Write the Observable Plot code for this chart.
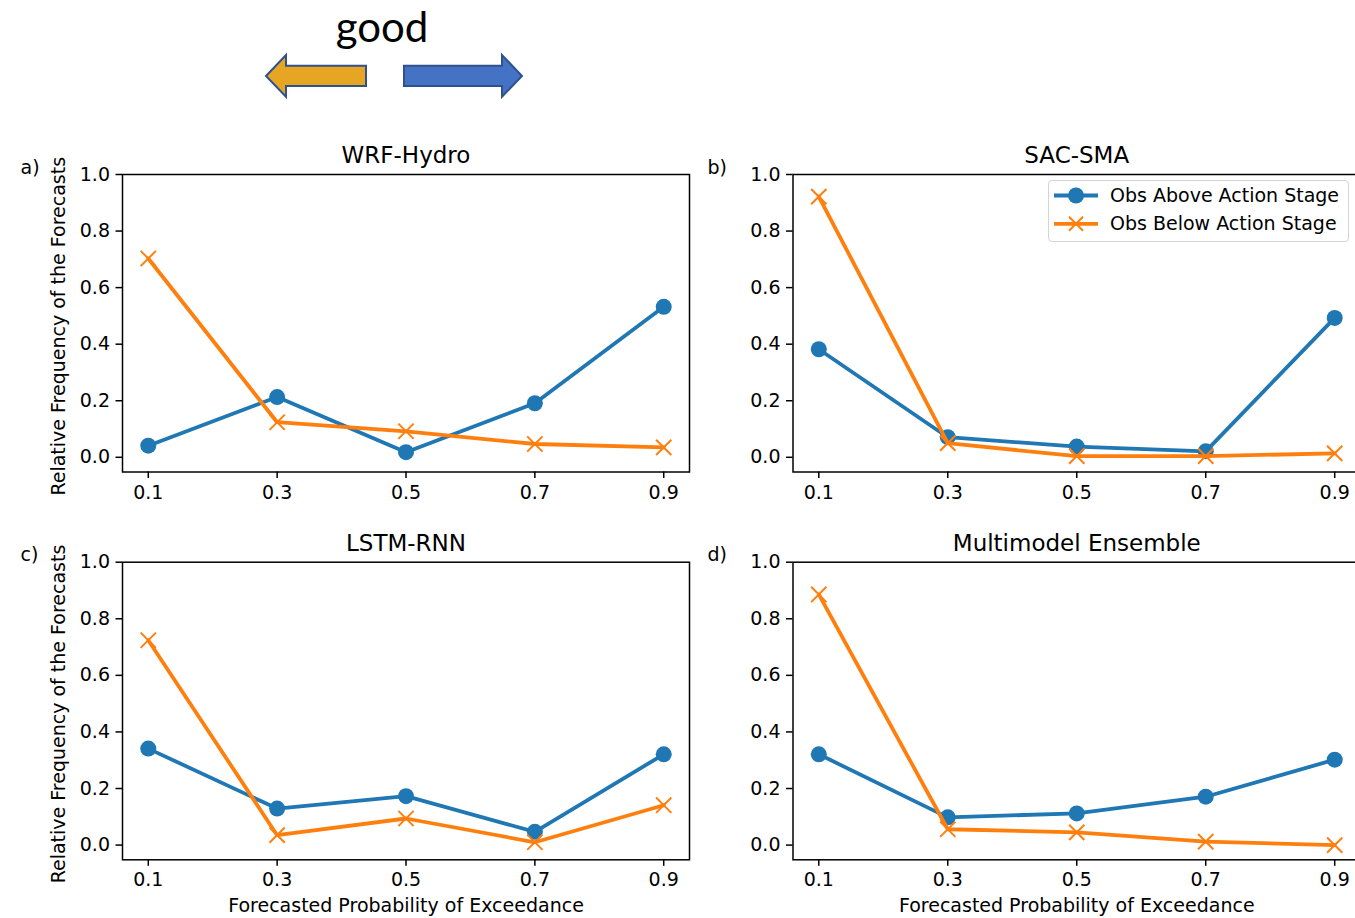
<!DOCTYPE html>
<html>
<head>
<meta charset="utf-8">
<script src="https://cdn.jsdelivr.net/npm/d3@7"></script>
<script src="https://cdn.jsdelivr.net/npm/@observablehq/plot@0.6"></script>
<style>
  html, body { margin: 0; padding: 0; background: #fff; }
  #root { position: relative; width: 1355px; height: 918px; overflow: hidden; background: #fff; }
  .panel { position: absolute; }
  .panel svg { overflow: visible; max-width: none !important; }
  #legend { position: absolute; left: 1048px; top: 180px; width: 299px; height: 60px;
    border: 1.5px solid #d4d4d4; border-radius: 4px; background: rgba(255,255,255,0.85);
    font-family: "DejaVu Sans", sans-serif; color: #000; }
</style>
</head>
<body>
<div id="root"></div>
<script>
// ---------- data ----------
const probs = [0.1, 0.3, 0.5, 0.7, 0.9];
const yTicks = [0, 0.2, 0.4, 0.6, 0.8, 1.0];
const seriesNames = ["Obs Above Action Stage", "Obs Below Action Stage"];
const panelTitles = ["WRF-Hydro", "SAC-SMA", "LSTM-RNN", "Multimodel Ensemble"];
const panelTags = ["a)", "b)", "c)", "d)"];

const wrfAbove  = [0.041, 0.213, 0.018, 0.191, 0.532];
const wrfBelow  = [0.703, 0.124, 0.092, 0.047, 0.035];
const sacAbove  = [0.382, 0.071, 0.038, 0.021, 0.493];
const sacBelow  = [0.922, 0.050, 0.004, 0.004, 0.014];
const lstmAbove = [0.341, 0.129, 0.173, 0.047, 0.321];
const lstmBelow = [0.724, 0.035, 0.094, 0.010, 0.141];
const mmeAbove  = [0.321, 0.098, 0.112, 0.171, 0.302];
const mmeBelow  = [0.886, 0.056, 0.045, 0.012, 0.000];

const xLabel = "Forecasted Probability of Exceedance";
const yLabel = "Relative Frequency of the Forecasts";
const headerWord = "good";

// ---------- style ----------
const BLUE = "#1f77b4", ORANGE = "#ff7f0e";
const FONT = "DejaVu Sans, sans-serif";
const FS = 19;

const root = document.getElementById("root");

// header: "good" with arrows
const header = document.createElementNS("http://www.w3.org/2000/svg", "svg");
header.setAttribute("width", 1355);
header.setAttribute("height", 120);
header.style.position = "absolute";
header.style.left = "0px";
header.style.top = "0px";
header.innerHTML = `
  <text x="382" y="42" text-anchor="middle" font-family="Lato, 'Open Sans', sans-serif" font-size="42" fill="#000">${headerWord}</text>
  <polygon points="266,76 286,55 286,65.7 366,65.7 366,86 286,86 286,96.7" fill="#E6A623" stroke="#2F528F" stroke-width="2" stroke-linejoin="miter"/>
  <polygon points="404,65.7 502,65.7 502,55 522,76 502,96.7 502,86 404,86" fill="#4472C4" stroke="#2F528F" stroke-width="2" stroke-linejoin="miter"/>
`;
root.appendChild(header);

function rows(vals) { return probs.map((p, i) => ({p, v: vals[i]})); }

function panel({above, below, title, tag, showY, showX, left, top, width, height, mL, mT, mR, mB}) {
  const A = rows(above), B = rows(below);
  const marks = [
    Plot.frame({stroke: "#000", strokeWidth: 1.5}),
    Plot.axisX(probs, {tickSize: 6.5, tickPadding: 6.5, tickFormat: d3.format(".1f"), fontSize: FS, label: null, strokeWidth: 1.5}),
    Plot.axisY(yTicks, {tickSize: 6.5, tickPadding: 6, tickFormat: d3.format(".1f"), fontSize: FS, label: null, strokeWidth: 1.5}),
    Plot.line(A, {x: "p", y: "v", stroke: BLUE, strokeWidth: 3.8}),
    Plot.dot(A, {x: "p", y: "v", r: 8, fill: BLUE, stroke: "none"}),
    Plot.line(B, {x: "p", y: "v", stroke: ORANGE, strokeWidth: 3.8}),
    Plot.dot(B, {x: "p", y: "v", symbol: "times", r: 7, stroke: ORANGE, strokeWidth: 2}),
    Plot.text([title], {text: d => d, frameAnchor: "top", textAnchor: "middle", dy: -19, lineAnchor: "middle", fontSize: 23, fill: "#000"}),
    Plot.text([tag], {text: d => d, frameAnchor: "top-left", textAnchor: "start", dx: -(mL - 20), dy: -7, lineAnchor: "middle", fontSize: FS, fill: "#000"})
  ];
  if (showY) marks.push(Plot.text([yLabel], {text: d => d, frameAnchor: "left", textAnchor: "middle", dx: -64, dy: 3, rotate: -90, lineAnchor: "middle", fontSize: FS, fill: "#000"}));
  if (showX) marks.push(Plot.text([xLabel], {text: d => d, frameAnchor: "bottom", textAnchor: "middle", dy: 46, lineAnchor: "middle", fontSize: FS, fill: "#000"}));
  const chart = Plot.plot({
    width, height,
    marginLeft: mL, marginTop: mT, marginRight: mR, marginBottom: mB,
    style: {background: "transparent", fontFamily: FONT, fontSize: FS + "px", overflow: "visible", color: "#000", maxWidth: "none"},
    x: {domain: [0.06, 0.94]},
    y: {domain: [-0.052, 1.0]},
    marks
  });
  const wrap = document.createElement("div");
  wrap.className = "panel";
  wrap.style.left = left + "px";
  wrap.style.top = top + "px";
  wrap.style.width = width + "px";
  wrap.style.height = height + "px";
  wrap.appendChild(chart);
  root.appendChild(wrap);
}

// top row: frame top 174, bottom 471.5 ; bottom row: frame top 561.7, bottom 859.3
panel({above: wrfAbove, below: wrfBelow, title: panelTitles[0], tag: panelTags[0], showY: true, showX: false,
  left: 0, top: 120, width: 700, height: 400, mL: 122, mT: 54, mR: 11, mB: 48.5});
panel({above: sacAbove, below: sacBelow, title: panelTitles[1], tag: panelTags[1], showY: false, showX: false,
  left: 687, top: 120, width: 683, height: 400, mL: 105.5, mT: 54, mR: 10, mB: 48.5});
panel({above: lstmAbove, below: lstmBelow, title: panelTitles[2], tag: panelTags[2], showY: true, showX: true,
  left: 0, top: 520, width: 700, height: 398, mL: 122, mT: 41.7, mR: 11, mB: 58.7});
panel({above: mmeAbove, below: mmeBelow, title: panelTitles[3], tag: panelTags[3], showY: false, showX: true,
  left: 687, top: 520, width: 683, height: 398, mL: 105.5, mT: 41.7, mR: 10, mB: 58.7});

// legend (in panel b, upper right)
const legend = document.createElement("div");
legend.id = "legend";
legend.innerHTML = `
  <svg width="299" height="60" style="position:absolute;left:0;top:0;overflow:visible">
    <line x1="5" x2="49" y1="14.5" y2="14.5" stroke="${BLUE}" stroke-width="3.8"/>
    <circle cx="27" cy="14.5" r="8" fill="${BLUE}"/>
    <line x1="5" x2="49" y1="42.8" y2="42.8" stroke="${ORANGE}" stroke-width="3.8"/>
    <path d="M20,35.8L34,49.8M20,49.8L34,35.8" stroke="${ORANGE}" stroke-width="2" fill="none"/>
    <text x="61" y="14.5" dy="0.35em" font-family="DejaVu Sans, sans-serif" font-size="19" fill="#000">${seriesNames[0]}</text>
    <text x="61" y="42.8" dy="0.35em" font-family="DejaVu Sans, sans-serif" font-size="19" fill="#000">${seriesNames[1]}</text>
  </svg>`;
root.appendChild(legend);
</script>
</body>
</html>
